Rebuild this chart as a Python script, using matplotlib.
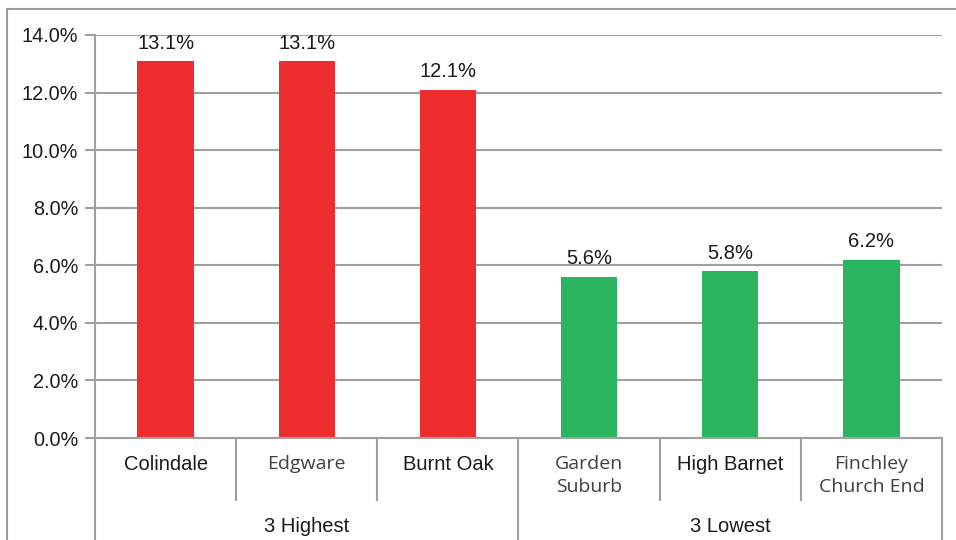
import matplotlib
matplotlib.use('Agg')
import matplotlib.pyplot as plt
import matplotlib.transforms as transforms
from matplotlib.patches import Rectangle
from matplotlib.ticker import MultipleLocator, FuncFormatter

plt.rcParams['font.family'] = ['Liberation Sans', 'DejaVu Sans']

# data
wards = ['Colindale', 'Edgware', 'Burnt Oak', 'Garden\nSuburb', 'High Barnet', 'Finchley\nChurch End']
values = [13.1, 13.1, 12.1, 5.6, 5.8, 6.2]
groups = ['3 Highest', '3 Lowest']
alt_font = [False, True, False, True, False, True]  # labels drawn in a different font in the original

red = '#EE2E2E'
green = '#2BB45F'
colors = [red, red, red, green, green, green]
grey = '#A0A0A0'

fig = plt.figure(figsize=(9.56, 5.40), dpi=100)
W, H = 956, 540
ax = fig.add_axes([95 / W, (540 - 438) / H, (942 - 95) / W, (438 - 35) / H])

# outer chart border
fig.patches.append(Rectangle((7 / W, -0.1), 1.2, (540 - 9) / H + 0.1, transform=fig.transFigure,
                             fill=False, edgecolor='#9A9A9A', linewidth=1.5, zorder=0))

x = list(range(len(wards)))
ax.bar(x, values, width=0.40, color=colors, zorder=3)

for xi, v in zip(x, values):
    ax.annotate('%.1f%%' % v, (xi, v), xytext=(0, 6), textcoords='offset points',
                ha='center', va='bottom', fontsize=14.5, color='#1a1a1a')

ax.set_xlim(-0.5, 5.5)
ax.set_ylim(0, 14)
ax.yaxis.set_major_locator(MultipleLocator(2))
ax.yaxis.set_major_formatter(FuncFormatter(lambda v, p: '%.1f%%' % v))
ax.grid(axis='y', color=grey, linewidth=1.5, zorder=0)
ax.set_axisbelow(True)
for s in ['top', 'right', 'bottom']:
    ax.spines[s].set_visible(False)
ax.spines['left'].set_color(grey)
ax.spines['left'].set_linewidth(1.5)
ax.tick_params(axis='y', length=7, width=1.5, color=grey, labelsize=14.3, pad=5, labelcolor='#1a1a1a')
ax.set_xticks([])

# category axis drawn by hand below the plot
trans = transforms.blended_transform_factory(ax.transData, ax.transAxes)
ax_h = 438 - 35
ax.plot([-0.5, 5.5], [0, 0], transform=trans, color=grey, lw=1.5, clip_on=False, zorder=4)
for b in [-0.5, 0.5, 1.5, 2.5, 3.5, 4.5, 5.5]:
    bottom = -0.26 if b in (-0.5, 2.5, 5.5) else -62 / ax_h
    ax.plot([b, b], [0, bottom], transform=trans, color=grey, lw=1.5, clip_on=False)

for xi, name, alt in zip(x, wards, alt_font):
    if alt:
        ax.text(xi, -17 / ax_h, name, transform=trans, ha='center', va='top', fontsize=14,
                family=['Open Sans', 'DejaVu Sans'], color='#404040', linespacing=1.35)
    else:
        ax.text(xi, -17 / ax_h, name, transform=trans, ha='center', va='top', fontsize=14.5,
                color='#1a1a1a', linespacing=1.1)

for gi, g in enumerate(groups):
    ax.text(1 + 3 * gi, -88 / ax_h, g, transform=trans, ha='center', va='center',
            fontsize=14.5, color='#1a1a1a')

fig.savefig('out.png', dpi=100)
